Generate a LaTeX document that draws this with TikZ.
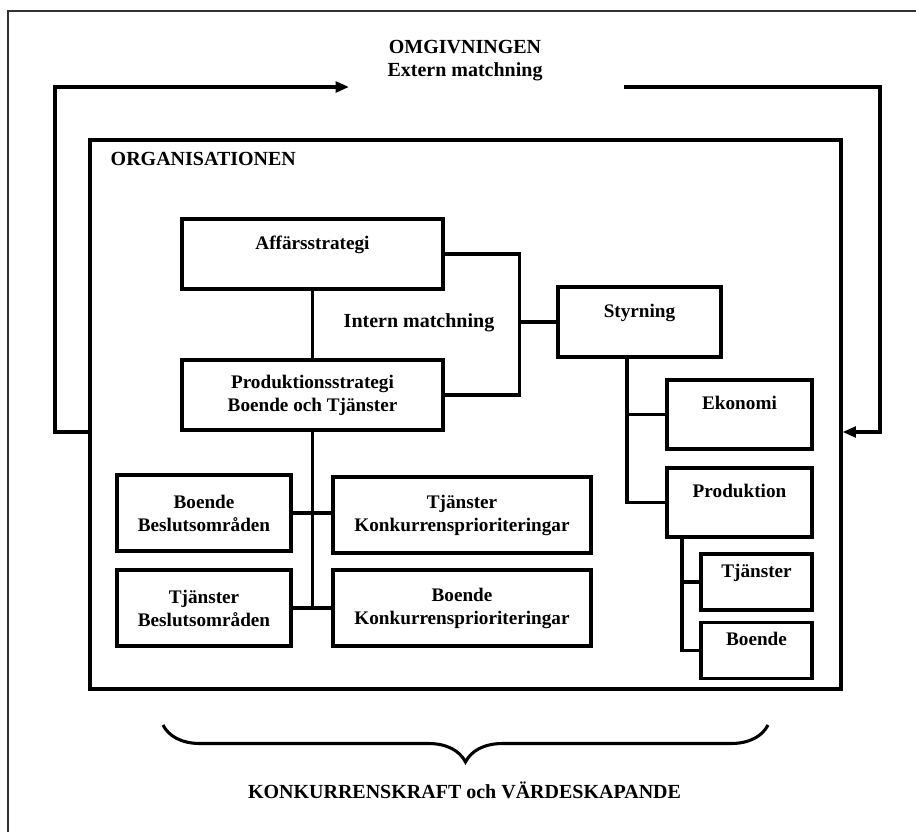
\documentclass[tikz,border=0pt]{standalone}
\usepackage{fontspec}
\setmainfont{Liberation Serif}
\usepackage{tikz}
\usetikzlibrary{positioning, arrows.meta, decorations.pathreplacing}
\definecolor{framegray}{HTML}{333333}
\tikzset{
  every node/.style={font=\bfseries\fontsize{15}{17.25}\selectfont},
  box/.style={
    rectangle, draw, line width=2.3pt, fill=white, align=center,
    inner sep=2pt, font=\bfseries\fontsize{14.4}{17.25}\selectfont
  },
  wide/.style={box, minimum width=195.75pt, minimum height=52.5pt},
  mid/.style={box, minimum width=122.25pt, minimum height=52.5pt},
  side/.style={box, minimum width=108.75pt, minimum height=51.75pt},
  small/.style={box, minimum width=83.25pt, minimum height=42pt},
  area/.style={box, minimum width=130.5pt, minimum height=57pt},
  prio/.style={box, minimum width=193.5pt, minimum height=57pt},
  link/.style={line width=2.3pt},
  loop/.style={line width=2.5pt, -{Triangle[length=10pt, width=8pt]}},
  frame/.style={draw=framegray, line width=1.2pt},
  bracelabel/.style={decorate, decoration={brace, amplitude=27.75pt}, line width=2.3pt}
}

\begin{document}
\begin{tikzpicture}[x=0.75pt, y=-0.75pt]
\useasboundingbox (0,0) rectangle (916,831);
\clip (0,0) rectangle (916,831);

% ── Page frame (runs off the right and bottom) ───────────────────────────────
\draw[frame] (8,11) rectangle (960,880);

% ── Environment heading ──────────────────────────────────────────────────────
\node[align=center] (omg) at (465,60.5) {OMGIVNINGEN\\Extern matchning};

% ── Organisation envelope ────────────────────────────────────────────────────
\node[box, minimum width=563.25pt, minimum height=411.75pt] (org) at (465.5,414.5) {};
\node[anchor=west] (orgtitle) at (106,159) {ORGANISATIONEN};

% ── Strategy column ──────────────────────────────────────────────────────────
\node[wide] (aff) at (312.5,254) {Affärsstrategi\\~};
\node[wide] (prodstrat) at (312.5,395) {Produktionsstrategi\\Boende och Tjänster};
\node (intern) at (419,323) {Intern matchning};

\draw[link] (aff.south) -- (prodstrat.north);
\draw[link] (aff.east) -- ++(75,0) coordinate (bk) |- (prodstrat.east);

% ── Control branch ───────────────────────────────────────────────────────────
\node[mid] (styr) at (639.5,322) {Styrning\\~};
\node[side] (ekon) at (739.5,414.5) {Ekonomi\\~};
\node[side] (prod) at (739.5,502.5) {Produktion\\~};
\node[small] (tjan) at (756.5,582) {Tjänster\\~};
\node[small] (boende) at (756.5,650.5) {Boende\\~};

\draw[link] (styr.west) -- (styr.west -| bk);
\coordinate (strunk) at ([xshift=-9.375pt]styr.south);
\draw[link] (strunk) |- (prod.west);
\draw[link] (strunk |- ekon.west) -- (ekon.west);
\coordinate (ptrunk) at ([xshift=-43.125pt]prod.south);
\draw[link] (ptrunk) |- (boende.west);
\draw[link] (ptrunk |- tjan.west) -- (tjan.west);

% ── Decision areas and priorities ────────────────────────────────────────────
\node[area] (boBes) at (204,513) {Boende\\Beslutsområden};
\node[area] (tjBes) at (204,608) {Tjänster\\Beslutsområden};
\node[prio] (tjKonk) at (462,515) {Tjänster\\Konkurrensprioriteringar};
\node[prio] (boKonk) at (462,608) {Boende\\Konkurrensprioriteringar};

\draw[link] (prodstrat.south) -- (prodstrat.south |- tjBes.east);
\draw[link] (boBes.east) -- (tjKonk.west |- boBes.east);
\draw[link] (tjBes.east) -- (boKonk.west);

% ── External matching loop ───────────────────────────────────────────────────
\coordinate (extL) at (349,87);
\coordinate (extR) at (624,87);
\coordinate (lft) at (55,432);
\coordinate (rgt) at (880,432);
\draw[loop] (org.west |- lft) -- (lft) |- (extL);
\draw[loop] (extR) -| (rgt) -- (org.east |- rgt);

% ── Outcome ──────────────────────────────────────────────────────────────────
\coordinate (bl) at (163,725);
\coordinate (br) at (768,725);
\draw[bracelabel] (br) -- (bl);
\node (outcome) at (464.5,790) {KONKURRENSKRAFT och VÄRDESKAPANDE};

\end{tikzpicture}
\end{document}
